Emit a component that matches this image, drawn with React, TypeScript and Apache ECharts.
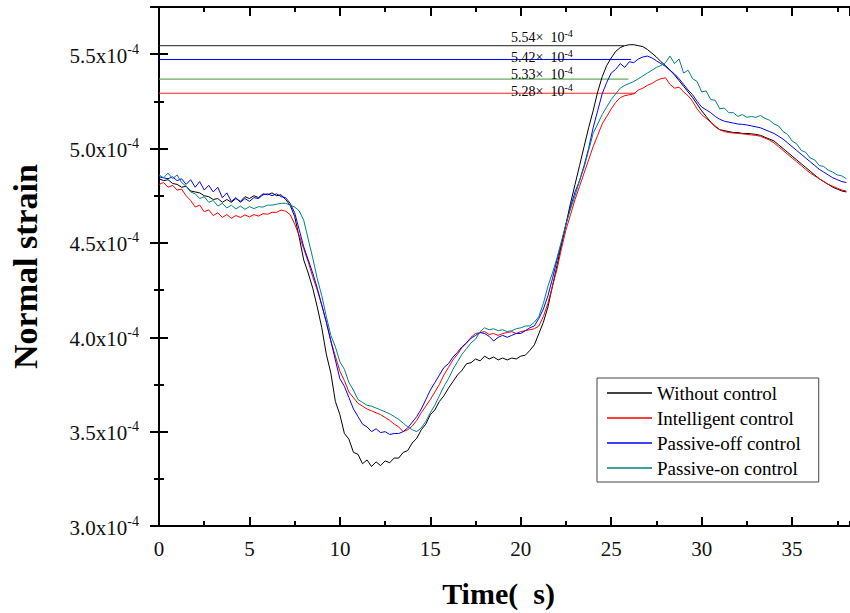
import React, { useEffect, useRef } from "react";
import * as echarts from "echarts";

// Sampling step of the recorded strain histories (s)
const SAMPLE_STEP = 0.25;

// Normal strain, in units of 10^-4, sampled every 0.25 s from 0 to 38 s
const withoutControl = [
  4.84, 4.83, 4.835, 4.815, 4.81, 4.795, 4.8, 4.775, 4.77, 4.765, 4.75, 4.745,
  4.73, 4.735, 4.715, 4.73, 4.715, 4.735, 4.72, 4.745, 4.735, 4.75, 4.74, 4.76,
  4.755, 4.765, 4.75, 4.755, 4.73, 4.7, 4.64, 4.53, 4.41, 4.34, 4.26, 4.16,
  4.05, 3.91, 3.81, 3.66, 3.59, 3.49, 3.46, 3.39, 3.38, 3.33, 3.35, 3.315,
  3.34, 3.32, 3.345, 3.335, 3.36, 3.36, 3.39, 3.4, 3.44, 3.465, 3.51, 3.54,
  3.59, 3.615, 3.66, 3.69, 3.73, 3.765, 3.8, 3.825, 3.86, 3.865, 3.885, 3.875,
  3.9, 3.885, 3.895, 3.88, 3.89, 3.88, 3.89, 3.885, 3.9, 3.905, 3.93, 3.96,
  4.02, 4.08, 4.16, 4.27, 4.38, 4.49, 4.6, 4.71, 4.81, 4.91, 5.01, 5.11,
  5.2, 5.3, 5.38, 5.44, 5.48, 5.515, 5.535, 5.545, 5.55, 5.55, 5.545, 5.54,
  5.525, 5.505, 5.485, 5.46, 5.44, 5.415, 5.39, 5.36, 5.33, 5.3, 5.27, 5.235,
  5.2, 5.17, 5.14, 5.115, 5.1, 5.095, 5.09, 5.085, 5.085, 5.08, 5.08, 5.078,
  5.075, 5.07, 5.06, 5.05, 5.04, 5.02, 5.0, 4.98, 4.96, 4.94, 4.92, 4.9,
  4.88, 4.86, 4.84, 4.825, 4.81, 4.795, 4.785, 4.775, 4.77,
];

const intelligentControl = [
  4.81, 4.82, 4.795, 4.805, 4.78, 4.785, 4.75, 4.725, 4.69, 4.7, 4.665, 4.675,
  4.645, 4.66, 4.635, 4.65, 4.63, 4.645, 4.635, 4.648, 4.638, 4.65, 4.642, 4.655,
  4.652, 4.662, 4.662, 4.674, 4.668, 4.65, 4.6, 4.54, 4.47, 4.4, 4.32, 4.25,
  4.17, 4.08, 3.98, 3.9, 3.82, 3.77, 3.71, 3.68, 3.65, 3.635, 3.62, 3.61,
  3.6, 3.59, 3.575, 3.56, 3.54, 3.525, 3.5, 3.51, 3.53, 3.56, 3.6, 3.635,
  3.67, 3.71, 3.75, 3.8, 3.84, 3.88, 3.91, 3.945, 3.97, 4.0, 4.02, 4.025,
  4.03, 4.015, 4.02, 4.01, 4.02, 4.025, 4.03, 4.02, 4.03, 4.035, 4.04, 4.045,
  4.06, 4.11, 4.18, 4.27, 4.36, 4.47, 4.57, 4.65, 4.73, 4.8, 4.87, 4.94,
  5.01, 5.07, 5.13, 5.17, 5.21, 5.245, 5.27, 5.28, 5.285, 5.29, 5.31, 5.32,
  5.335, 5.345, 5.36, 5.37, 5.375, 5.34, 5.32, 5.325, 5.3, 5.28, 5.25, 5.21,
  5.18, 5.16, 5.14, 5.12, 5.1, 5.09, 5.085, 5.082, 5.08, 5.078, 5.075, 5.072,
  5.07, 5.065, 5.055, 5.045, 5.03, 5.01, 4.99, 4.97, 4.95, 4.93, 4.91, 4.89,
  4.87, 4.855, 4.84, 4.825, 4.81, 4.8, 4.79, 4.78, 4.775,
];

const passiveOffControl = [
  4.85, 4.845, 4.84, 4.85, 4.83, 4.84, 4.81, 4.835, 4.795, 4.825, 4.78, 4.805,
  4.77, 4.795, 4.74, 4.765, 4.72, 4.74, 4.715, 4.735, 4.72, 4.74, 4.735, 4.755,
  4.76, 4.75, 4.76, 4.745, 4.74, 4.71, 4.66, 4.57, 4.48, 4.41, 4.34, 4.26,
  4.17, 4.08, 3.98, 3.88, 3.78, 3.74, 3.68, 3.62, 3.58, 3.54, 3.525, 3.5,
  3.515, 3.495, 3.5, 3.485, 3.49, 3.49, 3.5, 3.52, 3.55, 3.58, 3.62, 3.67,
  3.72, 3.76, 3.8, 3.84, 3.86, 3.895, 3.92, 3.95, 3.97, 3.995, 4.01, 4.025,
  4.02, 4.005, 3.98, 4.0, 4.01, 4.0, 4.01, 4.02, 4.02, 4.035, 4.05, 4.06,
  4.1, 4.15, 4.22, 4.31, 4.41, 4.5, 4.6, 4.69, 4.77, 4.83, 4.91, 5.0,
  5.11, 5.2, 5.29, 5.35, 5.4, 5.42, 5.45, 5.43, 5.46, 5.455, 5.475, 5.485,
  5.49, 5.48, 5.465, 5.45, 5.435, 5.415, 5.395, 5.37, 5.34, 5.31, 5.285, 5.25,
  5.22, 5.205, 5.19, 5.17, 5.155, 5.145, 5.14, 5.135, 5.13, 5.128, 5.125, 5.12,
  5.115, 5.11, 5.1, 5.09, 5.08, 5.065, 5.05, 5.03, 5.01, 4.99, 4.97, 4.95,
  4.93, 4.91, 4.89, 4.875, 4.86, 4.845, 4.835, 4.825, 4.82,
];

const passiveOnControl = [
  4.86, 4.845, 4.87, 4.84, 4.86, 4.82, 4.8, 4.77, 4.76, 4.735, 4.745, 4.715,
  4.725, 4.695, 4.71, 4.685, 4.7, 4.68, 4.695, 4.678, 4.692, 4.682, 4.692, 4.69,
  4.7, 4.7, 4.705, 4.71, 4.71, 4.7, 4.69, 4.67, 4.62, 4.52, 4.42, 4.31,
  4.22, 4.11, 4.01, 3.95, 3.87, 3.83, 3.76, 3.72, 3.67, 3.655, 3.64, 3.635,
  3.625, 3.615, 3.605, 3.595, 3.58, 3.565, 3.545, 3.525, 3.51, 3.5, 3.52, 3.555,
  3.6, 3.64, 3.69, 3.74, 3.78, 3.83, 3.87, 3.91, 3.94, 3.97, 3.99, 4.03,
  4.05, 4.04, 4.045, 4.035, 4.04, 4.03, 4.035, 4.045, 4.05, 4.06, 4.06, 4.08,
  4.11, 4.18, 4.27, 4.34, 4.42, 4.51, 4.6, 4.68, 4.75, 4.83, 4.9, 4.99,
  5.08, 5.13, 5.18, 5.22, 5.26, 5.29, 5.32, 5.335, 5.345, 5.355, 5.37, 5.385,
  5.4, 5.415, 5.43, 5.44, 5.455, 5.49, 5.45, 5.475, 5.4, 5.415, 5.37, 5.355,
  5.3, 5.305, 5.26, 5.255, 5.21, 5.215, 5.19, 5.19, 5.17, 5.18, 5.165, 5.17,
  5.165, 5.175, 5.16, 5.15, 5.13, 5.12, 5.09, 5.075, 5.04, 5.025, 4.99, 4.98,
  4.95, 4.94, 4.91, 4.905, 4.885, 4.875, 4.86, 4.855, 4.84,
];

const seriesNames = [
  "Without control",
  "Intelligent control",
  "Passive-off control",
  "Passive-on control",
];
const seriesColors = ["#000000", "#ff0000", "#0000ff", "#008080"];

// Peak reference lines (value in 10^-4, end time in s), in series order
const peakLevels = [5.545, 5.293, 5.472, 5.368];
const peakEnds = [25.7, 26.35, 26.1, 25.95];
const peakLineColors = ["#222222", "#ff2020", "#0000ff", "#3c9b3c"];
// Peak annotation texts, top to bottom
const peakLabels = ["5.54", "5.42", "5.33", "5.28"];

const xMin = 0;
const xMax = 38.2;
const yMin = 3.0;
const yMax = 5.75;

const FONT = '"Liberation Serif", "Times New Roman", serif';

export default function App() {
  const ref = useRef<HTMLDivElement>(null);

  useEffect(() => {
    if (!ref.current) return;
    const chart = echarts.init(ref.current, undefined, { renderer: "svg" });
    const seriesData = [withoutControl, intelligentControl, passiveOffControl, passiveOnControl];

    const majorTick = { inside: true, length: 9, lineStyle: { color: "#000", width: 2 } };
    const minorTickStyle = { inside: true, length: 5, lineStyle: { color: "#000", width: 2 } };
    const axisLine = { show: true, lineStyle: { color: "#000", width: 2 } };

    const xBase = { type: "value", min: xMin, max: xMax, gridIndex: 0, splitLine: { show: false } };
    const yBase = { type: "value", min: yMin, max: yMax, gridIndex: 0, splitLine: { show: false } };

    const supRich = {
      a: { fontFamily: FONT, fontSize: 21, color: "#111", lineHeight: 24, verticalAlign: "bottom" },
      b: { fontFamily: FONT, fontSize: 14, color: "#111", lineHeight: 12, verticalAlign: "top" },
    };
    const noteRich = {
      a: { fontFamily: FONT, fontSize: 14, color: "#222", lineHeight: 16, verticalAlign: "bottom" },
      b: { fontFamily: FONT, fontSize: 10, color: "#222", lineHeight: 9, verticalAlign: "top" },
    };
    const noteY = [36, 56, 73, 90];

    const dataSeries = seriesNames.map((name, i) => ({
      name,
      type: "line",
      xAxisIndex: 0,
      yAxisIndex: 0,
      symbol: "none",
      showSymbol: false,
      color: seriesColors[i],
      lineStyle: { color: seriesColors[i], width: 1 },
      z: 3,
      data: seriesData[i].map((v, k) => [k * SAMPLE_STEP, v]),
    }));

    const peakSeries = peakLevels.map((lvl, i) => ({
      name: "peak-" + i,
      type: "line",
      xAxisIndex: 0,
      yAxisIndex: 0,
      symbol: "none",
      showSymbol: false,
      silent: true,
      z: 2,
      lineStyle: { color: peakLineColors[i], width: 1 },
      data: [
        [0, lvl],
        [peakEnds[i], lvl],
      ],
    }));

    const option: any = {
      animation: false,
      backgroundColor: "#fff",
      grid: { left: 157, top: 7, width: 697, height: 520, containLabel: false },
      xAxis: [
        {
          ...xBase,
          position: "bottom",
          interval: 5,
          axisLine,
          axisTick: majorTick,
          axisLabel: {
            fontFamily: FONT,
            fontSize: 21,
            color: "#111",
            margin: 12,
            showMaxLabel: false,
          },
          name: "Time(  s)",
          nameLocation: "middle",
          nameGap: 52,
          nameTextStyle: {
            fontFamily: FONT,
            fontSize: 30,
            fontWeight: "bold",
            color: "#000",
            padding: [0, 12, 0, 0],
          },
        },
        {
          ...xBase,
          position: "bottom",
          interval: 2.5,
          axisLine: { show: false },
          axisTick: minorTickStyle,
          axisLabel: { show: false },
        },
        {
          ...xBase,
          position: "top",
          interval: 5,
          axisLine,
          axisTick: majorTick,
          axisLabel: { show: false },
        },
        {
          ...xBase,
          position: "top",
          interval: 2.5,
          axisLine: { show: false },
          axisTick: minorTickStyle,
          axisLabel: { show: false },
        },
      ],
      yAxis: [
        {
          ...yBase,
          position: "left",
          interval: 0.5,
          axisLine,
          axisTick: majorTick,
          axisLabel: {
            margin: 20,
            showMaxLabel: false,
            formatter: (v: number) => `{a|${v.toFixed(1)}x10}{b|-4}`,
            rich: supRich,
          },
          name: "Normal strain",
          nameLocation: "middle",
          nameGap: 117,
          nameTextStyle: { fontFamily: FONT, fontSize: 34, fontWeight: "bold", color: "#000" },
        },
        {
          ...yBase,
          position: "left",
          interval: 0.25,
          axisLine: { show: false },
          axisTick: minorTickStyle,
          axisLabel: { show: false },
        },
        {
          ...yBase,
          position: "right",
          interval: 0.5,
          axisLine,
          axisTick: majorTick,
          axisLabel: { show: false },
        },
        {
          ...yBase,
          position: "right",
          interval: 0.25,
          axisLine: { show: false },
          axisTick: minorTickStyle,
          axisLabel: { show: false },
        },
      ],
      legend: {
        orient: "vertical",
        left: 597,
        top: 378,
        icon: "rect",
        itemWidth: 45,
        itemHeight: 1.5,
        itemGap: 5,
        padding: [5, 18, 4, 10],
        borderColor: "#444",
        borderWidth: 1,
        backgroundColor: "#fff",
        data: seriesNames,
        textStyle: { fontFamily: FONT, fontSize: 19, color: "#000", lineHeight: 20 },
      },
      series: [...peakSeries, ...dataSeries],
      graphic: peakLabels.map((lab, i) => ({
        type: "text",
        x: 511,
        y: noteY[i],
        z: 10,
        style: {
          text: `{a|${lab}×  10}{b|-4}`,
          rich: noteRich,
          verticalAlign: "middle",
          align: "left",
        },
      })),
    };

    chart.setOption(option);
    return () => chart.dispose();
  }, []);

  return (
    <div
      ref={ref}
      style={{ position: "fixed", left: 0, top: 0, width: 850, height: 613, background: "#fff" }}
    />
  );
}
